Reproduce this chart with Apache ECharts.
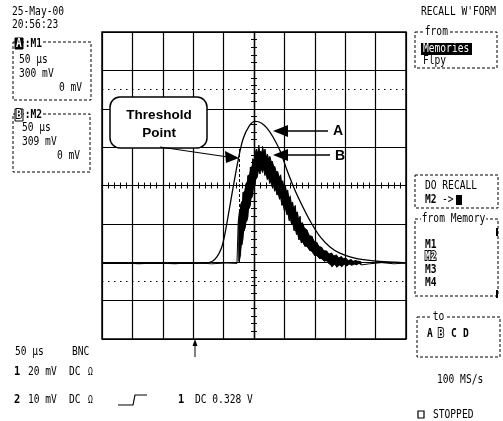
<!DOCTYPE html>
<html><head><meta charset="utf-8">
<script src="https://cdn.jsdelivr.net/npm/echarts/dist/echarts.min.js"></script>
<style>html,body{margin:0;padding:0;background:#fff}#c{width:503px;height:421px}</style>
</head><body><div id="c"></div>
<script>
// Time in microseconds relative to screen centre (50 us/div), amplitude in divisions
const timeA = [-250,-171,-81,-69,-61,-54,-49,-43,-35,-26,-18,-8,2,12,21,31,43,54,67,81,94,109,125,141,161,183,207,232,250];
const voltA = [-2.03,-2.03,-2.02,-1.98,-1.86,-1.65,-1.36,-0.84,-0.11,0.67,1.21,1.55,1.67,1.63,1.50,1.27,0.90,0.41,-0.11,-0.58,-0.97,-1.34,-1.60,-1.76,-1.87,-1.94,-1.98,-2.00,-2.02];

const baseTimeB = [-250,-220,-190,-160,-130,-100,-70,-45,-28];
const baseVoltB = [-2.03,-2.01,-2.04,-2.02,-2.04,-2.01,-2.04,-2.02,-2.03];
const noiseTimeB = [-26,-24,-22,-20,-18,-16,-14,-12,-10,-8,-6,-4,-2,0,2,4,6,8,10,12,14,16,18,20,22,24,26,28,30,32,34,36,38,40,42,44,46,48,50,52,54,56,58,60,62,64,66,68,70,72,74,76,78,80,84,88,92,96,100,104,108,112,116,120,124,128,132,136,140,144,148,152,156,160,164,168,172,176];
const noiseUpperB = [-0.95,-0.69,-0.50,-0.42,-0.18,-0.14,0.02,0.08,0.26,0.30,0.48,0.50,0.70,0.68,0.85,0.95,0.86,1.05,0.90,0.88,1.02,0.86,0.95,0.76,0.82,0.70,0.76,0.64,0.63,0.52,0.50,0.38,0.37,0.36,0.22,0.28,0.12,0.14,-0.03,0.02,-0.14,-0.10,-0.30,-0.25,-0.45,-0.42,-0.58,-0.52,-0.70,-0.68,-0.86,-0.80,-0.98,-0.95,-1.12,-1.17,-1.31,-1.33,-1.46,-1.49,-1.59,-1.62,-1.70,-1.71,-1.78,-1.76,-1.83,-1.81,-1.88,-1.85,-1.90,-1.90,-1.95,-1.93,-1.97,-1.95,-1.97,-1.99];
const noiseLowerB = [-2.00,-1.95,-1.80,-1.55,-1.38,-1.18,-1.07,-0.93,-0.82,-0.60,-0.52,-0.33,-0.25,-0.06,0.02,0.18,0.20,0.38,0.30,0.43,0.34,0.41,0.26,0.30,0.15,0.20,0.05,0.10,-0.04,0.00,-0.15,-0.11,-0.25,-0.22,-0.36,-0.33,-0.52,-0.50,-0.66,-0.62,-0.76,-0.75,-0.92,-0.88,-1.02,-1.00,-1.18,-1.14,-1.28,-1.27,-1.42,-1.38,-1.50,-1.47,-1.59,-1.61,-1.70,-1.74,-1.83,-1.84,-1.91,-1.92,-1.98,-1.97,-2.05,-2.12,-2.06,-2.13,-2.08,-2.12,-2.06,-2.10,-2.06,-2.08,-2.06,-2.07,-2.04,-2.07];
const tailTimeB = [190,210,230,250];
const tailVoltB = [-2.04,-2.01,-2.04,-2.02];

const cursorLevels = [2.5, -2.5];
const thresholdTime = -25;
const thresholdSpan = [0.95, -2.0];

const dataA = timeA.map((t, i) => [t, voltA[i]]);
const dataB = [];
baseTimeB.forEach((t, i) => dataB.push([t, baseVoltB[i]]));
noiseTimeB.forEach((t, i) => {
  if (i % 2 === 0) { dataB.push([t, noiseLowerB[i]]); dataB.push([t, noiseUpperB[i]]); }
  else { dataB.push([t, noiseUpperB[i]]); dataB.push([t, noiseLowerB[i]]); }
});
tailTimeB.forEach((t, i) => dataB.push([t, tailVoltB[i]]));

// ---------- annotation / screen furniture ----------
const G = [];
const mono = '"DejaVu Sans Mono", monospace';
function T(x, y, s, o) {
  o = o || {};
  const st = { text: s, fill: o.fill || '#000', font: (o.bold ? 'bold ' : '') + (o.size || 12) + 'px ' + (o.family || mono), align: o.align || 'left', verticalAlign: 'middle' };
  if (o.bg) { st.backgroundColor = o.bg; st.padding = [0, 1]; }
  if (o.stroke) { st.stroke = o.stroke; st.lineWidth = o.lw || 2; }
  G.push({ type: 'text', x: x, y: y, z: 100, scaleX: o.sx == null ? 0.8 : o.sx, style: st });
}
function R(x, y, w, h, o) {
  o = o || {};
  G.push({ type: 'rect', z: o.z || 99, shape: { x: x, y: y, width: w, height: h, r: o.r || 0 },
    style: { fill: o.fill || 'none', stroke: o.stroke === undefined ? '#000' : o.stroke, lineWidth: o.lw || 1, lineDash: o.dash || null } });
}
function L(pts, o) {
  o = o || {};
  G.push({ type: 'polyline', z: 100, shape: { points: pts }, style: { stroke: '#000', lineWidth: o.lw || 1, fill: 'none' } });
}
function P(pts) { G.push({ type: 'polygon', z: 100, shape: { points: pts }, style: { fill: '#000' } }); }

// top-left
T(12, 12, '25-May-00'); T(12, 25, '20:56:23');
R(13, 42, 78, 58, { dash: [3, 2] });
R(15, 38, 8, 11, { fill: '#000', z: 100 });
T(16, 44, 'A', { fill: '#fff', bold: true });
T(24, 44, ':M1', { bold: true, bg: '#fff' });
T(19, 60, '50 µs'); T(19, 74, '300 mV'); T(82, 88, '0 mV', { align: 'right' });
R(13, 114, 77, 58, { dash: [3, 2] });
R(15, 109, 8, 12, { fill: '#fff', z: 100 });
T(16, 115, 'B', { fill: '#fff', stroke: '#000', bold: true });
T(24, 115, ':M2', { bold: true, bg: '#fff' });
T(22, 128, '50 µs'); T(22, 142, '309 mV'); T(80, 156, '0 mV', { align: 'right' });

// right panel
T(421, 12, "RECALL W'FORM");
R(415, 32, 82, 36, { dash: [3, 2] });
T(424, 32, 'from', { bg: '#fff' });
R(421, 43, 51, 12, { fill: '#000', stroke: null, z: 100 });
T(423, 49, 'Memories', { fill: '#fff' });
T(423, 61, 'Flpy');
R(415, 175, 83, 33, { dash: [3, 2] });
T(425, 186, 'DO RECALL');
T(425, 200, 'M2', { bold: true }); T(442, 200, '->');
R(456, 195, 6, 10, { fill: '#000', stroke: null, z: 100 });
R(415, 219, 83, 77, { dash: [3, 2] });
T(421, 219, 'from Memory', { bg: '#fff' });
T(425, 245, 'M1', { bold: true });
T(425, 257, 'M2', { bold: true, fill: '#fff', stroke: '#000' });
T(425, 270, 'M3', { bold: true });
T(425, 283, 'M4', { bold: true });
R(496, 228, 2, 8, { fill: '#000', stroke: null, z: 100 });
R(496, 290, 2, 8, { fill: '#000', stroke: null, z: 100 });
R(417, 317, 83, 40, { dash: [3, 2] });
T(432, 317, 'to', { bg: '#fff' });
T(427, 334, 'A', { bold: true });
T(438, 334, 'B', { bold: true, fill: '#fff', stroke: '#000' });
T(451, 334, 'C', { bold: true });
T(463, 334, 'D', { bold: true });
T(437, 380, '100 MS/s');
R(418, 411, 6, 7, { lw: 1.2 });
T(433, 415, 'STOPPED');

// bottom-left
T(15, 352, '50 µs'); T(72, 352, 'BNC');
T(14, 372, '1', { bold: true, size: 13 }); T(28, 372, '20 mV'); T(69, 372, 'DC'); T(88, 372, 'Ω', { size: 10 });
T(14, 400, '2', { bold: true, size: 13 }); T(28, 400, '10 mV'); T(69, 400, 'DC'); T(88, 400, 'Ω', { size: 10 });
L([[118, 405], [133, 405], [135, 395], [147, 395]], { lw: 1.2 });
T(178, 400, '1', { bold: true, size: 13 }); T(195, 400, 'DC 0.328 V');

// trigger arrow
L([[195, 357], [195, 343]], { lw: 1 });
P([[195, 339], [192.5, 346], [197.5, 346]]);

// callout
R(110, 97, 97, 51, { fill: '#fff', r: 10, lw: 1.5, z: 100 });
const sans = '"Liberation Sans", Arial, sans-serif';
T(159, 115, 'Threshold', { bold: true, size: 13.5, family: sans, align: 'center', sx: 1 });
T(159, 133, 'Point', { bold: true, size: 13.5, family: sans, align: 'center', sx: 1 });
L([[160, 147], [228, 157]], { lw: 1.2 });
P([[239, 158], [225, 151], [226, 163]]);
// arrow A
L([[286, 131], [328, 131]], { lw: 1.5 });
P([[273, 131], [288, 125], [288, 137]]);
T(333, 131, 'A', { bold: true, size: 14, family: sans, sx: 1 });
// arrow B
L([[286, 155], [330, 155]], { lw: 1.5 });
P([[273, 155], [288, 149], [288, 161]]);
T(335, 156, 'B', { bold: true, size: 14, family: sans, sx: 1 });

const axisBase = {
  type: 'value', min: -250, max: 250, interval: 50,
  axisLabel: { show: false },
  axisLine: { show: true, onZero: true, onZeroAxisIndex: 0, lineStyle: { color: '#000', width: 1.2 } },
  axisTick: { show: true, inside: true, length: 3, lineStyle: { color: '#000', width: 1 } },
  minorTick: { show: true, splitNumber: 5, length: 3, lineStyle: { color: '#000', width: 1 } }
};
const yBase = Object.assign({}, axisBase, { min: -4, max: 4, interval: 1 });

const option = {
  animation: false,
  backgroundColor: '#fff',
  grid: { left: 102, top: 32, width: 304, height: 307, show: true, borderColor: '#000', borderWidth: 1.5, containLabel: false },
  xAxis: [
    Object.assign({}, axisBase, { position: 'bottom', splitLine: { show: true, lineStyle: { color: '#000', width: 1.2 } } }),
    Object.assign({}, axisBase, { position: 'top', splitLine: { show: false } })
  ],
  yAxis: [
    Object.assign({}, yBase, { position: 'left', splitLine: { show: true, lineStyle: { color: '#000', width: 1.2 } } }),
    Object.assign({}, yBase, { position: 'right', splitLine: { show: false } })
  ],
  series: [
    {
      type: 'line', name: 'A', data: dataA, showSymbol: false, smooth: 0.3, z: 5,
      lineStyle: { color: '#000', width: 1.3 },
      markLine: { silent: true, symbol: 'none', label: { show: false },
        lineStyle: { color: '#000', type: [1.5, 4.5], width: 1 },
        data: cursorLevels.map(v => ({ yAxis: v })) }
    },
    {
      type: 'custom', name: 'Bband', coordinateSystem: 'cartesian2d', z: 4, silent: true,
      data: [[noiseTimeB[0], noiseUpperB[0]]],
      renderItem: function (params, api) {
        const pts = [];
        noiseTimeB.forEach((t, i) => pts.push(api.coord([t, noiseUpperB[i]])));
        for (let i = noiseTimeB.length - 1; i >= 0; i--) pts.push(api.coord([noiseTimeB[i], noiseLowerB[i]]));
        return { type: 'polygon', shape: { points: pts }, style: { fill: '#000', stroke: null } };
      }
    },
    {
      type: 'line', name: 'B', data: dataB, showSymbol: false, z: 6,
      lineStyle: { color: '#000', width: 1 },
      markLine: { silent: true, symbol: 'none', label: { show: false },
        lineStyle: { color: '#000', type: [3, 2], width: 1 },
        data: [[{ coord: [thresholdTime, thresholdSpan[0]] }, { coord: [thresholdTime, thresholdSpan[1]] }]] }
    }
  ],
  graphic: { elements: G }
};
const chart = echarts.init(document.getElementById('c'), null, { renderer: 'canvas' });
chart.setOption(option);
</script>
</body></html>
